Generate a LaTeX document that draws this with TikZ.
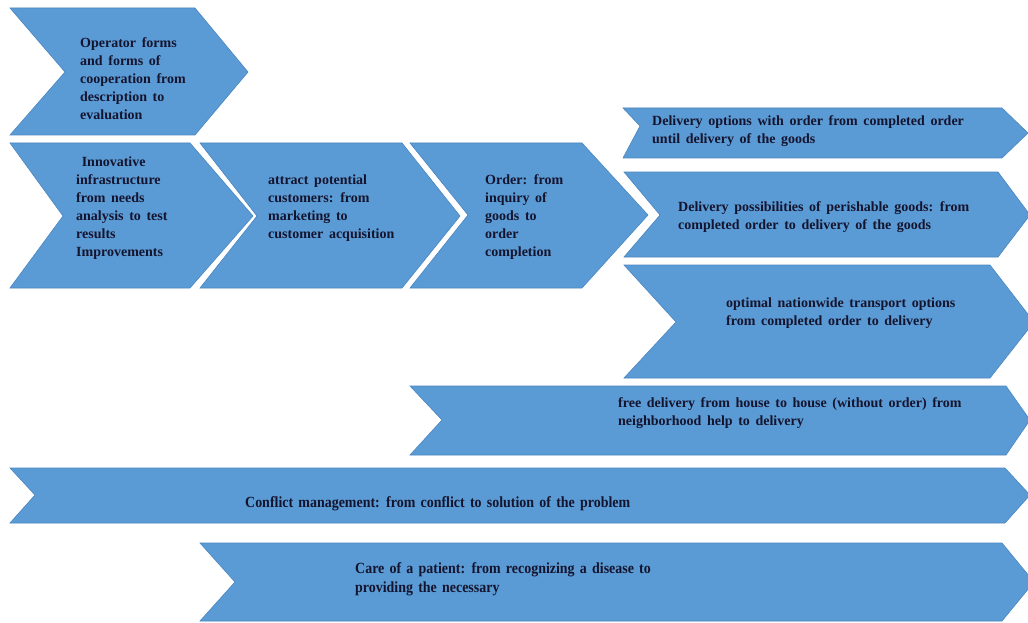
\documentclass[tikz,border=0pt]{standalone}
\usepackage{fontspec}
\setmainfont[WordSpace=1.6]{Liberation Serif}
\newfontfamily\narrowserif[FakeStretch=0.9,WordSpace=1.5]{Liberation Serif}
\definecolor{chevfill}{HTML}{5B9BD5}
\definecolor{chevline}{HTML}{4A86C0}
\definecolor{chevtext}{HTML}{14142E}
\tikzset{
  chev/.style={fill=chevfill, draw=chevline, line width=0.6pt, line join=miter},
  lbl/.style={anchor=west, align=left, inner sep=0pt, text=chevtext,
    font=\fontsize{14}{18}\selectfont\bfseries},
  nlbl/.style={anchor=west, align=left, inner sep=0pt, text=chevtext,
    font=\narrowserif\fontsize{15.5}{19}\selectfont\bfseries}
}
\begin{document}
\begin{tikzpicture}[x=1pt,y=-1pt]
\useasboundingbox[fill=white] (0,0) rectangle (1028,623);
% chevrons
\draw[chev] (10,8) -- (195,8) -- (248,72) -- (195,135) -- (10,135) -- (65,72) -- cycle;
\draw[chev] (10,143) -- (190,143) -- (253,216) -- (190,288) -- (10,288) -- (63,216) -- cycle;
\draw[chev] (200,143) -- (402,143) -- (460,216) -- (402,288) -- (200,288) -- (257,216) -- cycle;
\draw[chev] (410,143) -- (582,143) -- (648,215) -- (582,288) -- (410,288) -- (468,215) -- cycle;
\draw[chev] (623,108) -- (1002,108) -- (1028,133) -- (1002,158) -- (623,158) -- (640,126) -- cycle;
\draw[chev] (624,172) -- (998,172) -- (1030,215) -- (998,257) -- (624,257) -- (660,215) -- cycle;
\draw[chev] (624,265) -- (990,265) -- (1034,322) -- (990,378) -- (624,378) -- (676,322) -- cycle;
\draw[chev] (410,386) -- (1006,386) -- (1030,420) -- (1006,455) -- (410,455) -- (442,420) -- cycle;
\draw[chev] (10,468) -- (1005,468) -- (1030,495) -- (1005,523) -- (10,523) -- (35,495) -- cycle;
\draw[chev] (200,543) -- (1002,543) -- (1034,582) -- (1002,621) -- (200,621) -- (235,582) -- cycle;
% labels
\node[lbl] (t1) at (80,79) {Operator forms\\and forms of\\cooperation from\\description to\\evaluation};
\node[lbl] (t2) at (76,208) {\ Innovative\\infrastructure\\from needs\\analysis to test\\results\\Improvements};
\node[lbl] (t3) at (268,208) {attract potential\\customers: from\\marketing to\\customer acquisition};
\node[lbl] (t4) at (485,217) {Order: from\\inquiry of\\goods to\\order\\completion};
\node[lbl] (t5) at (652,131) {Delivery options with order from completed order\\until delivery of the goods};
\node[lbl] (t6) at (678,217) {Delivery possibilities of perishable goods: from\\completed order to delivery of the goods};
\node[lbl] (t7) at (726,313) {optimal nationwide transport options\\from completed order to delivery};
\node[lbl] (t8) at (618,413) {free delivery from house to house (without order) from\\neighborhood help to delivery};
\node[nlbl] (t9) at (245,504) {Conflict management: from conflict to solution of the problem};
\node[nlbl] (t10) at (355,579) {Care of a patient: from recognizing a disease to\\providing the necessary};
\end{tikzpicture}
\end{document}
